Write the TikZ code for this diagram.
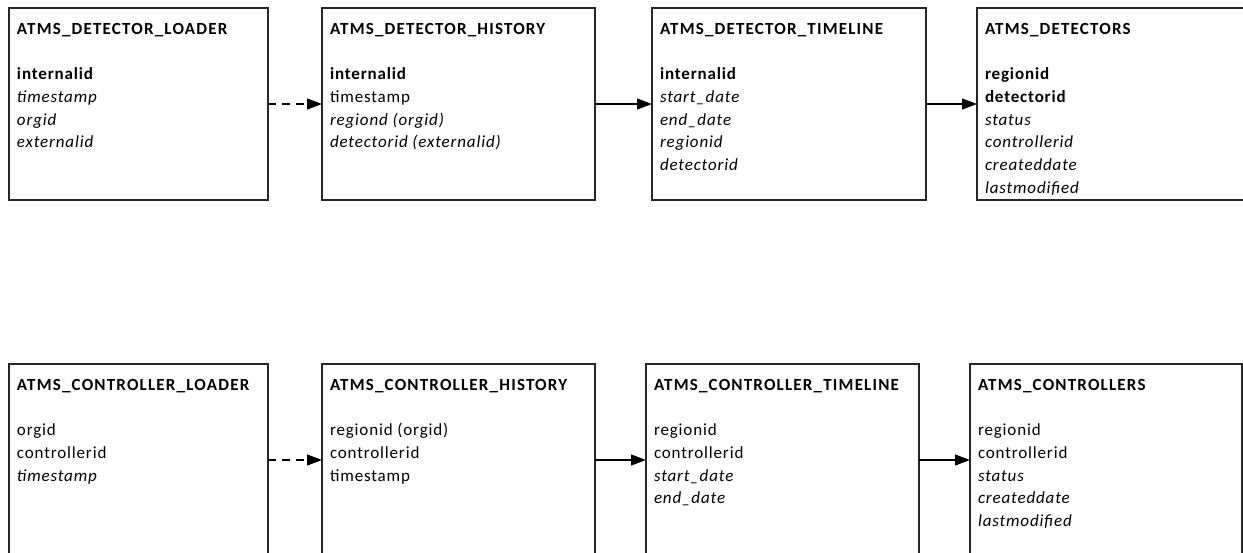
\documentclass[tikz,border=0pt]{standalone}
\usepackage{fontspec}
\setmainfont{Carlito}[LetterSpace=5]
\usetikzlibrary{arrows.meta}
\tikzset{
  ent/.style={draw=black!85, line width=1.2pt, inner sep=0pt, outer sep=0pt, anchor=north west, fill=white},
  flow/.style={line width=1.2pt, draw=black, -{Triangle[length=15pt,width=11pt]}},
  loadflow/.style={flow, dash pattern=on 8pt off 6pt}
}
\newcommand\ttl[1]{{\addfontfeatures{LetterSpace=7}\textbf{#1}}}
\newcommand\erbox[2]{\parbox[t][192pt][t]{#1}{\leftskip=8pt\fontsize{17pt}{22.7pt}\selectfont\vspace*{10.6pt}\strut #2}}
\begin{document}
\begin{tikzpicture}[x=1pt,y=-1pt]
\useasboundingbox (0,0) rectangle (1243,552);
\clip (0,0) rectangle (1243,552);
% top row
\node[ent] (dl) at (9,8) {\erbox{259pt}{\ttl{ATMS\_DETECTOR\_LOADER}\\ \mbox{}\\ \textbf{internalid}\\ \textit{timestamp}\\ \textit{orgid}\\ \textit{externalid}}};
\node[ent] (dh) at (322,8) {\erbox{273pt}{\ttl{ATMS\_DETECTOR\_HISTORY}\\ \mbox{}\\ \textbf{internalid}\\ timestamp\\ \textit{regiond (orgid)}\\ \textit{detectorid (externalid)}}};
\node[ent] (dt) at (652,8) {\erbox{274pt}{\ttl{ATMS\_DETECTOR\_TIMELINE}\\ \mbox{}\\ \textbf{internalid}\\ \textit{start\_date}\\ \textit{end\_date}\\ \textit{regionid}\\ \textit{detectorid}}};
\node[ent] (ds) at (977,8) {\erbox{274pt}{\ttl{ATMS\_DETECTORS}\\ \mbox{}\\ \textbf{regionid}\\ \textbf{detectorid}\\ \textit{status}\\ \textit{controllerid}\\ \textit{createddate}\\ \textit{lastmodified}}};
% bottom row
\node[ent] (cl) at (9,364) {\erbox{259pt}{\ttl{ATMS\_CONTROLLER\_LOADER}\\ \mbox{}\\ orgid\\ controllerid\\ \textit{timestamp}}};
\node[ent] (ch) at (322,364) {\erbox{273pt}{\ttl{ATMS\_CONTROLLER\_HISTORY}\\ \mbox{}\\ regionid (orgid)\\ controllerid\\ timestamp}};
\node[ent] (ct) at (646,364) {\erbox{273pt}{\ttl{ATMS\_CONTROLLER\_TIMELINE}\\ \mbox{}\\ regionid\\ controllerid\\ \textit{start\_date}\\ \textit{end\_date}}};
\node[ent] (cs) at (970,364) {\erbox{272pt}{\ttl{ATMS\_CONTROLLERS}\\ \mbox{}\\ regionid\\ controllerid\\ \textit{status}\\ \textit{createddate}\\ \textit{lastmodified}}};
% connectors
\draw[loadflow] (dl.east) -- (dh.west);
\draw[flow] (dh.east) -- (dt.west);
\draw[flow] (dt.east) -- (ds.west);
\draw[loadflow] (cl.east) -- (ch.west);
\draw[flow] (ch.east) -- (ct.west);
\draw[flow] (ct.east) -- (cs.west);
\end{tikzpicture}
\end{document}
